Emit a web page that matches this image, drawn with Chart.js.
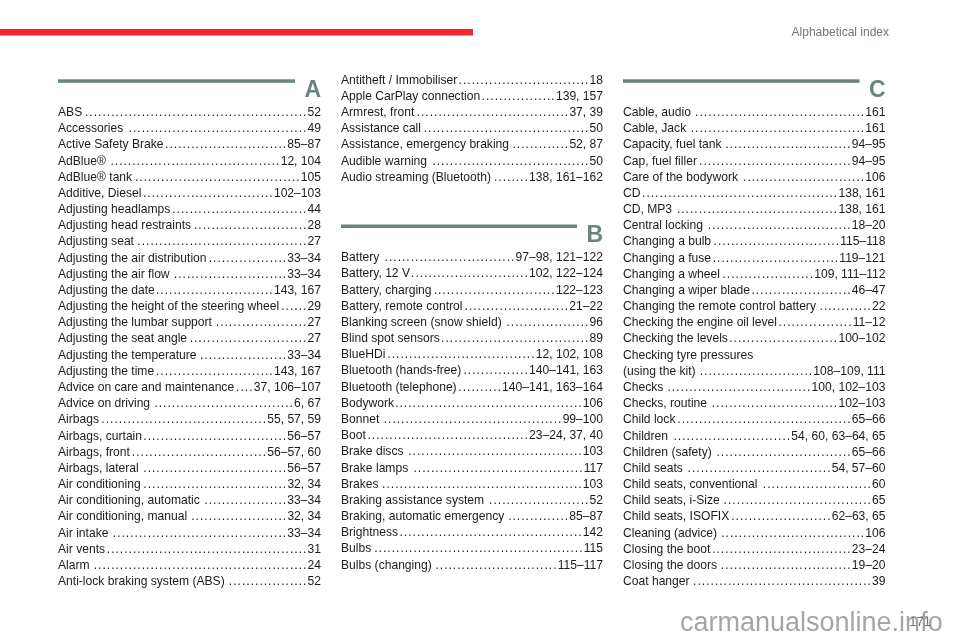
<!DOCTYPE html>
<html>
<head>
<meta charset="utf-8">
<title>Alphabetical index</title>
<script src="https://cdn.jsdelivr.net/npm/chart.js@4/dist/chart.umd.min.js"></script>
<style>
  html, body { margin: 0; padding: 0; background: #ffffff; overflow: hidden; }
  #wrap { width: 960px; height: 640px; position: relative; }
  canvas { display: block; }
</style>
</head>
<body>
<div id="wrap"><canvas id="page" width="960" height="640"></canvas></div>
<script>
// ---------- content ----------
const headerTitle = "Alphabetical index";
const pageNumber = "171";
const watermarkText = "carmanualsonline.info";
const sectionLetters = ["A", "B", "C"];

const entriesA1 = [
  "ABS", "Accessories", "Active Safety Brake", "AdBlue®", "AdBlue® tank",
  "Additive, Diesel", "Adjusting headlamps", "Adjusting head restraints",
  "Adjusting seat", "Adjusting the air distribution", "Adjusting the air flow",
  "Adjusting the date", "Adjusting the height of the steering wheel",
  "Adjusting the lumbar support", "Adjusting the seat angle",
  "Adjusting the temperature", "Adjusting the time",
  "Advice on care and maintenance", "Advice on driving", "Airbags",
  "Airbags, curtain", "Airbags, front", "Airbags, lateral", "Air conditioning",
  "Air conditioning, automatic", "Air conditioning, manual", "Air intake",
  "Air vents", "Alarm", "Anti-lock braking system (ABS)"
];
const pagesA1 = [
  "52", "49", "85–87", "12, 104", "105",
  "102–103", "44", "28",
  "27", "33–34", "33–34",
  "143, 167", "29",
  "27", "27",
  "33–34", "143, 167",
  "37, 106–107", "6, 67", "55, 57, 59",
  "56–57", "56–57, 60", "56–57", "32, 34",
  "33–34", "32, 34", "33–34",
  "31", "24", "52"
];

const entriesA2 = [
  "Antitheft / Immobiliser", "Apple CarPlay connection", "Armrest, front",
  "Assistance call", "Assistance, emergency braking", "Audible warning",
  "Audio streaming (Bluetooth)"
];
const pagesA2 = ["18", "139, 157", "37, 39", "50", "52, 87", "50", "138, 161–162"];

const entriesB = [
  "Battery", "Battery, 12 V", "Battery, charging", "Battery, remote control",
  "Blanking screen (snow shield)", "Blind spot sensors", "BlueHDi",
  "Bluetooth (hands-free)", "Bluetooth (telephone)", "Bodywork", "Bonnet",
  "Boot", "Brake discs", "Brake lamps", "Brakes", "Braking assistance system",
  "Braking, automatic emergency", "Brightness", "Bulbs", "Bulbs (changing)"
];
const pagesB = [
  "97–98, 121–122", "102, 122–124", "122–123", "21–22",
  "96", "89", "12, 102, 108",
  "140–141, 163", "140–141, 163–164", "106", "99–100",
  "23–24, 37, 40", "103", "117", "103", "52",
  "85–87", "142", "115", "115–117"
];

const entriesC = [
  "Cable, audio", "Cable, Jack", "Capacity, fuel tank", "Cap, fuel filler",
  "Care of the bodywork", "CD", "CD, MP3", "Central locking",
  "Changing a bulb", "Changing a fuse", "Changing a wheel",
  "Changing a wiper blade", "Changing the remote control battery",
  "Checking the engine oil level", "Checking the levels",
  "Checking tyre pressures", "(using the kit)", "Checks", "Checks, routine",
  "Child lock", "Children", "Children (safety)", "Child seats ",
  "Child seats, conventional", "Child seats, i-Size", "Child seats, ISOFIX",
  "Cleaning (advice)", "Closing the boot", "Closing the doors", "Coat hanger"
];
const pagesC = [
  "161", "161", "94–95", "94–95",
  "106", "138, 161", "138, 161", "18–20",
  "115–118", "119–121", "109, 111–112",
  "46–47", "22",
  "11–12", "100–102",
  "", "108–109, 111", "100, 102–103", "102–103",
  "65–66", "54, 60, 63–64, 65", "65–66", "54, 57–60",
  "60", "65", "62–63, 65",
  "106", "23–24", "19–20", "39"
];

// ---------- drawing ----------
const FONT = '"Liberation Sans", Arial, Helvetica, sans-serif';
const TEXT_COLOR = '#1b1b1b';
const RULE_COLOR = '#6d8381';

const indexPlugin = {
  id: 'indexPage',
  afterDraw(chart) {
    const ctx = chart.ctx;
    const sx = chart.scales.x, sy = chart.scales.y;
    const X = v => sx.getPixelForValue(v);
    const Y = v => sy.getPixelForValue(v);
    const rowH = 16.17;
    const entrySize = 12.1;

    ctx.save();
    // red top bar
    ctx.fillStyle = '#ef2530';
    ctx.fillRect(X(0), Y(29), X(473) - X(0), Y(35.5) - Y(29));

    // running header
    ctx.fillStyle = '#6c7878';
    ctx.font = '12px ' + FONT;
    ctx.textAlign = 'right';
    ctx.textBaseline = 'alphabetic';
    ctx.fillText(headerTitle, X(889), Y(36.3));

    function sectionHeader(letter, x0, x1, firstRowY) {
      const barTop = firstRowY - 32.4;
      ctx.fillStyle = RULE_COLOR;
      ctx.fillRect(X(x0), Y(barTop), X(x1 - 26) - X(x0), 3.5);
      ctx.font = 'bold 23px ' + FONT;
      ctx.textAlign = 'right';
      ctx.textBaseline = 'alphabetic';
      ctx.fillText(letter, X(x1), Y(firstRowY - 15));
    }

    function entries(names, pages, x0, x1, firstRowY) {
      ctx.font = entrySize + 'px ' + FONT;
      ctx.fillStyle = TEXT_COLOR;
      ctx.textBaseline = 'alphabetic';
      const dotStep = 4.36;
      names.forEach((name, i) => {
        const yb = Y(firstRowY + i * rowH + 4.4);
        ctx.textAlign = 'left';
        ctx.fillText(name, X(x0), yb);
        const pg = pages[i];
        if (!pg) return;
        ctx.textAlign = 'right';
        ctx.fillText(pg, X(x1), yb);
        const nameEnd = X(x0) + ctx.measureText(name).width;
        const pageStart = X(x1) - ctx.measureText(pg).width;
        let p = pageStart - 1.2;
        while (p - 3.4 >= nameEnd + 1.0) {
          ctx.fillText('.', p, yb);
          p -= dotStep;
        }
      });
    }

    // column 1
    sectionHeader(sectionLetters[0], 58, 321, 111.7);
    entries(entriesA1, pagesA1, 58, 321, 111.7);
    // column 2
    entries(entriesA2, pagesA2, 341, 603, 79.3);
    sectionHeader(sectionLetters[1], 341, 603, 256.9);
    entries(entriesB, pagesB, 341, 603, 256.9);
    // column 3
    sectionHeader(sectionLetters[2], 623, 885.5, 111.7);
    entries(entriesC, pagesC, 623, 885.5, 111.7);

    // page number
    ctx.fillStyle = '#6c7878';
    ctx.font = '13px ' + FONT;
    ctx.textAlign = 'right';
    ctx.fillText(pageNumber, X(931), Y(626));

    // watermark
    ctx.fillStyle = 'rgba(110,110,110,0.62)';
    ctx.font = '27px ' + FONT;
    ctx.textAlign = 'left';
    ctx.fillText(watermarkText, X(680), Y(631));
    ctx.restore();
  }
};

new Chart(document.getElementById('page').getContext('2d'), {
  type: 'scatter',
  data: { datasets: [] },
  options: {
    responsive: false,
    animation: false,
    events: [],
    layout: { padding: 0 },
    plugins: { legend: { display: false }, tooltip: { enabled: false } },
    scales: {
      x: { type: 'linear', min: 0, max: 960, display: false },
      y: { type: 'linear', min: 0, max: 640, reverse: true, display: false }
    }
  },
  plugins: [indexPlugin]
});
</script>
</body>
</html>
